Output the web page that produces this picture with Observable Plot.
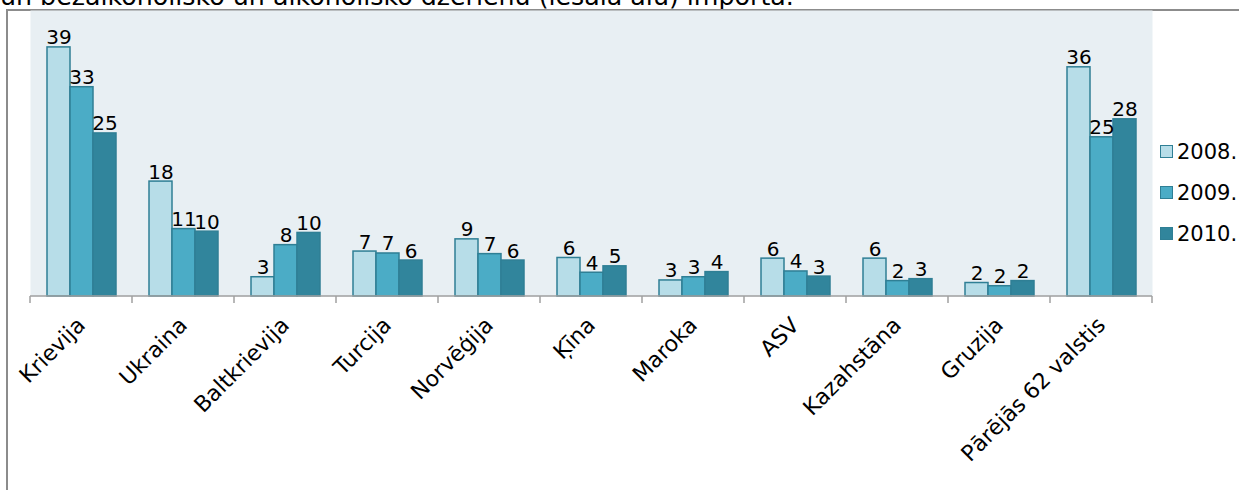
<!DOCTYPE html>
<html><head><meta charset="utf-8">
<script src="https://cdn.jsdelivr.net/npm/d3@7"></script>
<script src="https://cdn.jsdelivr.net/npm/@observablehq/plot@0.6"></script>
<style>
body{margin:0;background:#fff;font-family:"DejaVu Sans",Verdana,sans-serif;}
#wrap{position:relative;width:1239px;height:490px;overflow:hidden;}
#title{position:absolute;left:0px;top:-18px;font-size:25.3px;white-space:nowrap;color:#000;}
#border{position:absolute;left:6px;top:9px;right:-5px;bottom:-5px;border-top:2px solid #8c8c8c;border-left:2px solid #8c8c8c;}
#chart{position:absolute;left:0;top:0;}
#legend{position:absolute;left:1160px;top:131px;font-size:21px;color:#000;}
.item{display:flex;align-items:center;height:41px;}
.sw{width:11px;height:11px;border:1.5px solid #2f7f95;margin-right:4px;}
</style></head>
<body>
<div id="wrap">
  <div id="title">un bezalkoholisko un alkoholisko dzērienu (iesala alu) importā.</div>
  <div id="border"></div>
  <div id="chart"></div>
  <div id="legend"></div>
</div>
<script>
const countries = ["Krievija","Ukraina","Baltkrievija","Turcija","Norvēģija","Ķīna","Maroka","ASV","Kazahstāna","Gruzija","Pārējās 62 valstis"];
const years = ["2008.","2009.","2010."];
const v2008 = [38.8, 17.9, 3.0, 7.0, 8.9, 6.0, 2.5, 5.9, 5.9, 2.1, 35.7];
const v2009 = [32.6, 10.5, 8.0, 6.7, 6.6, 3.7, 3.0, 3.9, 2.4, 1.6, 24.8];
const v2010 = [25.4, 10.1, 9.9, 5.6, 5.6, 4.7, 3.8, 3.1, 2.7, 2.4, 27.6];
const colors = ["#b7dde8", "#4bacc6", "#31859c"];

const series = [v2008, v2009, v2010];
const data = countries.flatMap((c, i) => years.map((y, j) => ({country: c, year: y, value: series[j][i]})));

const plot = Plot.plot({
  width: 1239, height: 490,
  marginLeft: 29, marginRight: 86, marginTop: 10, marginBottom: 194,
  style: {fontFamily: "DejaVu Sans, Verdana, sans-serif", fontSize: "20px", background: "transparent", color: "#000", overflow: "visible"},
  fx: {domain: countries, padding: 0, label: null, axis: null},
  x: {domain: years, paddingInner: 0, paddingOuter: 0.69, axis: null},
  y: {domain: [0, 44.55], axis: null},
  color: {domain: years, range: colors},
  marks: [
    Plot.frame({facet: "super", fill: "#e8eff3", stroke: null}),
    Plot.barY(data, {fx: "country", x: "year", y: "value", fill: "year", stroke: "#2f7f95", strokeWidth: 1.5}),
    Plot.text(data, {fx: "country", x: "year", y: "value", text: d => Math.round(d.value), lineAnchor: "bottom", dy: -3, fill: "#000", fontSize: 20}),
    Plot.axisFx({anchor: "bottom", tickRotate: -45, tickSize: 0, tickPadding: 25, dx: 0, fontSize: 22, label: null, fill: "#000"})
  ]
});
document.getElementById("chart").appendChild(plot);

// baseline and edge ticks at band boundaries, from the library's scales
const fx = plot.scale("fx"), ys = plot.scale("y");
const y0 = ys.apply(0);
const last = fx.apply(countries[countries.length - 1]) + fx.bandwidth;
const edges = countries.map(c => fx.apply(c)).concat([last]);
const g = d3.select(plot).append("g").attr("stroke", "#a0a0a0").attr("stroke-width", 1.5);
g.append("line").attr("x1", fx.apply(countries[0])).attr("x2", last).attr("y1", y0).attr("y2", y0);
g.selectAll("line.t").data(edges).join("line").attr("class", "t")
  .attr("x1", d => d).attr("x2", d => d).attr("y1", y0).attr("y2", y0 + 7);

const leg = d3.select("#legend");
years.forEach((y, j) => {
  const it = leg.append("div").attr("class", "item");
  it.append("div").attr("class", "sw").style("background", colors[j]);
  it.append("span").text(y);
});
</script>
</body></html>
